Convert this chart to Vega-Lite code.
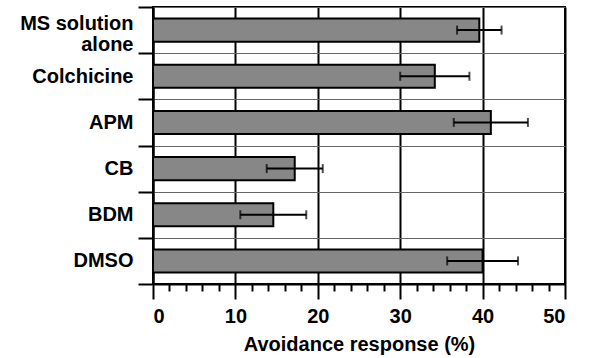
{
  "$schema": "https://vega.github.io/schema/vega-lite/v6.json",
  "width": 412,
  "height": 277,
  "autosize": {"type": "none"},
  "padding": {"left": 153, "top": 7, "right": 24, "bottom": 74},
  "background": "white",
  "config": {
    "view": {"stroke": "black", "strokeWidth": 2},
    "font": "Liberation Sans"
  },
  "data": {"values": [
    {"treatment": "MS solution alone", "response": 39.6, "err": 2.7},
    {"treatment": "Colchicine", "response": 34.2, "err": 4.2},
    {"treatment": "APM", "response": 41.0, "err": 4.5},
    {"treatment": "CB", "response": 17.2, "err": 3.4},
    {"treatment": "BDM", "response": 14.6, "err": 4.0},
    {"treatment": "DMSO", "response": 40.0, "err": 4.3}
  ]},
  "encoding": {
    "y": {
      "field": "treatment", "type": "nominal", "sort": null,
      "scale": {"paddingInner": 0, "paddingOuter": 0},
      "axis": {
        "title": null, "tickBand": "extent", "tickSize": 15, "tickWidth": 2, "tickColor": "black",
        "domainColor": "black", "domainWidth": 2,
        "grid": true, "gridColor": "#666666", "gridWidth": 1,
        "labelFontSize": 20, "labelFontWeight": "bold", "labelColor": "black", "labelPadding": 5,
        "labelExpr": "datum.value == 'MS solution alone' ? ['MS solution', 'alone'] : datum.label",
        "labelOffset": {"condition": {"test": "datum.value == 'MS solution alone'", "value": -7}, "value": 0},
        "labelLineHeight": 21, "labelLimit": 250
      }
    },
    "x": {
      "field": "response", "type": "quantitative",
      "scale": {"domain": [0, 50], "nice": false},
      "axis": {
        "title": "Avoidance response (%)",
        "values": [0,2,4,6,8,10,12,14,16,18,20,22,24,26,28,30,32,34,36,38,40,42,44,46,48,50],
        "labelExpr": "datum.value % 10 === 0 ? datum.label : ''",
        "labelOverlap": false,
        "tickSize": {"condition": {"test": "datum.value % 10 === 0", "value": 15}, "value": 7},
        "tickWidth": 2, "tickColor": "black",
        "domainColor": "black", "domainWidth": 2,
        "grid": true, "gridColor": "black", "gridWidth": 2,
        "gridOpacity": {"condition": {"test": "datum.value % 10 === 0", "value": 1}, "value": 0},
        "labelFontSize": 20, "labelFontWeight": "bold", "labelColor": "black", "labelPadding": 7,
        "titleFontSize": 20, "titleFontWeight": "bold", "titleColor": "black", "titlePadding": 8
      }
    }
  },
  "layer": [
    {
      "mark": {"type": "bar", "height": {"band": 0.5}, "fill": "#878787", "stroke": "black", "strokeWidth": 2}
    },
    {
      "mark": {"type": "errorbar", "ticks": {"size": 9, "thickness": 2, "color": "black"}, "rule": {"strokeWidth": 2, "color": "black"}},
      "encoding": {"xError": {"field": "err"}}
    }
  ]
}
